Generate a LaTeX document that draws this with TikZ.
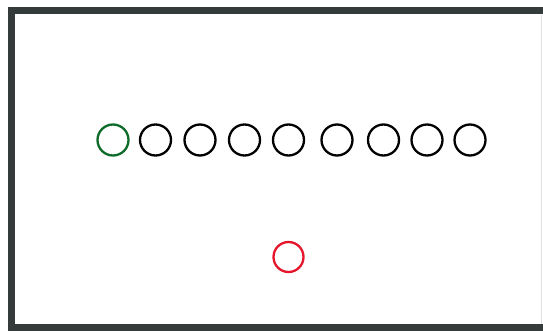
\documentclass[tikz,border=0pt]{standalone}
\usepackage{xcolor}
\usepackage{tikz}
\usetikzlibrary{positioning}
\definecolor{framegray}{HTML}{353B3B}
\definecolor{startgreen}{HTML}{0E6B2A}
\definecolor{markred}{HTML}{E5162B}

\begin{document}
\begin{tikzpicture}[x=1pt, y=-1pt,
    ring/.style={circle, draw=black, line width=2.3pt, minimum size=31pt, inner sep=0pt},
    border/.style={framegray, line width=7pt}]
  \useasboundingbox (0,0) rectangle (543,331);
  % Rám
  \draw[border] (543,11) -- (11.5,11) -- (11.5,331);
  \draw[border] (11.5,327.5) -- (543,327.5);
  \draw[gray!25, line width=0.6pt] (541,15) -- (541,324);

  % Řada kroužků
  \node[ring, draw=startgreen] (k1) at (113,140) {};
  \foreach \x [count=\i from 2] in {155.5, 200, 244.5, 288.5, 337, 383.5, 427, 470}
    \node[ring] (k\i) at (\x,140) {};

  % Červený kroužek
  \node[ring, draw=markred, minimum size=30pt] (cerveny) at (288.5,257) {};
\end{tikzpicture}
\end{document}
